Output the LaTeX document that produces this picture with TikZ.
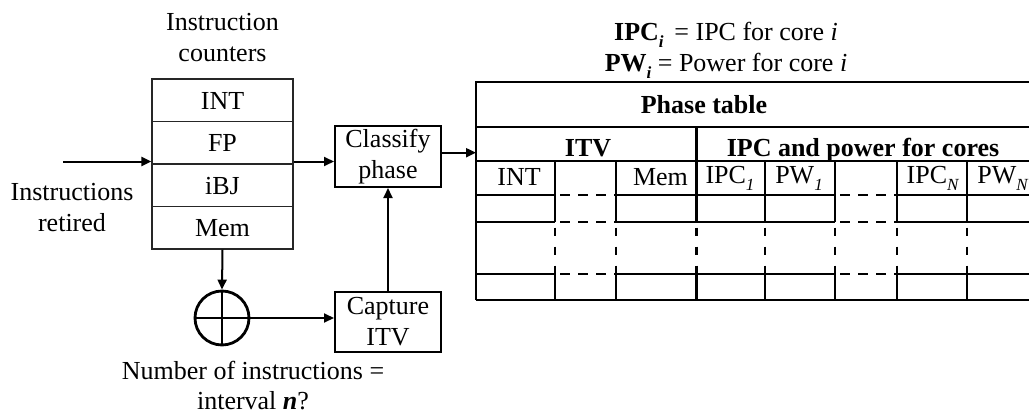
\documentclass[tikz,border=0pt]{standalone}
\usepackage{fontspec}
\setmainfont{Liberation Serif}
\usetikzlibrary{arrows.meta,calc}
\newcommand{\mysub}[1]{\raisebox{-0.28em}{\fontsize{17}{17}\selectfont #1}}
\begin{document}
\begin{tikzpicture}[x=1pt,y=-1pt,
  every node/.style={font=\fontsize{26}{31}\selectfont, inner sep=0pt},
  arr/.style={line width=2pt,-{Triangle[length=10pt,width=9pt]}},
  cnt/.style={draw=black!85, line width=1.2pt, minimum width=141pt, minimum height=42.5pt, text height=18pt, text depth=0pt},
  box/.style={draw, line width=2pt, minimum width=106pt, minimum height=61pt, align=center},
  lab/.style={anchor=base},
  tl/.style={line width=2pt},
  thk/.style={line width=3pt},
  hd/.style={line width=2pt, dash pattern=on 10pt off 8pt, dash phase=13pt},
  vd/.style={line width=2pt, dash pattern=on 8pt off 11pt, dash phase=13pt},
]
\useasboundingbox (0,0) rectangle (1029,415);

% instruction counters
\node[lab] (ic1) at (222.5,30.7) {Instruction};
\node[lab] (ic2) at (222.5,61.7) {counters};
\node[cnt] (c1) at (222.5,100.25) {INT};
\node[cnt] (c2) at (222.5,142.75) {FP};
\node[cnt] (c3) at (222.5,185.25) {iBJ};
\node[cnt] (c4) at (222.5,227.75) {Mem};

% input
\coordinate (inp) at (63,161.5);
\node[lab] (ir1) at (72,200.7) {Instructions};
\node[lab] (ir2) at (72,231) {retired};
\draw[arr] (inp) -- (inp -| c2.west);

% classify / capture
\node[box] (cls) at (388,156.5) {Classify\\phase};
\node[box, minimum height=60.6pt] (cap) at (388,322) {Capture\\ITV};
\draw[arr] (inp -| c2.east) -- (inp -| cls.west);
\draw[arr] (cap.north) -- (cls.south);

% adder
\node[draw, circle, line width=2.8pt, minimum size=54pt] (sum) at (222,318) {};
\draw[line width=2.8pt] (sum.north) -- (sum.south) (sum.west) -- (sum.east);
\draw[arr] (c4.south) -- (sum.north);
\draw[arr] (sum.east) -- (sum -| cap.west);
\node[lab] (n1) at (253,379) {Number of instructions =};
\node[lab] (n2) at (253,409) {interval \textbf{\textit{n}}?};

% legend
\node[lab] (lg1) at (726,40) {\textbf{IPC\mysub{\textit{i}}}\, = IPC for core \textit{i}};
\node[lab] (lg2) at (726,71.7) {\textbf{PW\mysub{\textit{i}}} = Power for core \textit{i}};

% table
\coordinate (tin) at (476,152.7);
\draw[arr] (cls.east |- tin) -- (tin);
\draw[tl] (476,300) -- (476,82.3) -- (1029,82.3);
\foreach \y in {126.7,161,300} \draw[tl] (476,\y) -- (1029,\y);
\foreach \y/\w in {195/2pt,221.7/2pt,274.3/2.2pt} {
  \draw[line width=\w] (476,\y) -- (555,\y) (616,\y) -- (835,\y) (897,\y) -- (1029,\y);
  \draw[hd] (555,\y) -- (616,\y);
  \draw[hd] (835,\y) -- (897,\y);
}
\draw[thk] (696,126.7) -- (696,221.7) (696,274.3) -- (696,300);
\draw[vd, line width=3pt] (696,221.7) -- (696,274.3);
\foreach \x in {555,616,765,835,897,967} {
  \draw[tl] (\x,161) -- (\x,221.7) (\x,274.3) -- (\x,300);
  \draw[vd] (\x,221.7) -- (\x,274.3);
}
\node[lab] (pt) at (704,113.3) {\textbf{Phase table}};
\node[lab] (itv) at (588,156.7) {\textbf{ITV}};
\node[lab] (ipcp) at (863,156.7) {\textbf{IPC and power for cores}};
\node[lab] (h1) at (519,185.5) {INT};
\node[lab] (h2) at (660.5,185.5) {Mem};
\node[lab] (h3) at (730,183.5) {IPC\mysub{\textit{1}}};
\node[lab] (h4) at (799,183.5) {PW\mysub{\textit{1}}};
\node[lab] (h5) at (933,183.5) {IPC\mysub{\textit{N}}};
\node[lab] (h6) at (1003,183.5) {PW\mysub{\textit{N}}};
\end{tikzpicture}
\end{document}
